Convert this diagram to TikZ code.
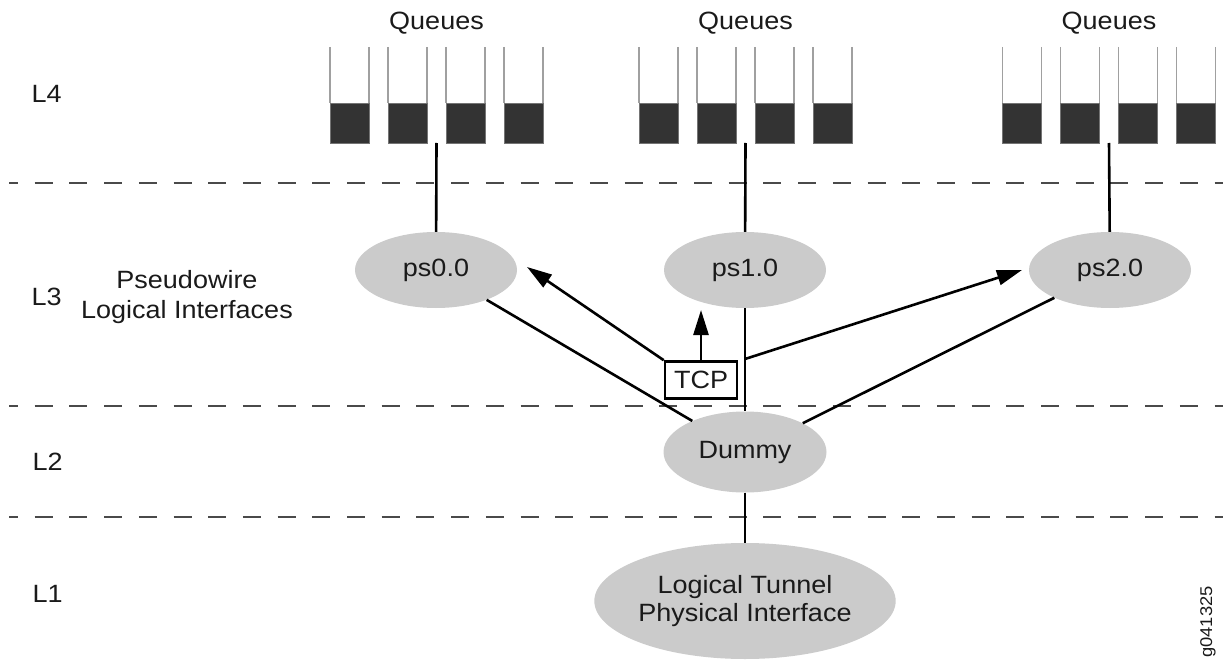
\documentclass[tikz,border=0pt]{standalone}
\usepackage{fontspec}
\setmainfont{Liberation Sans}[FakeStretch=1.08]
\usetikzlibrary{arrows.meta,shapes.geometric}
\definecolor{ink}{HTML}{1A1A1A}
\definecolor{ellgray}{HTML}{CBCBCB}
\definecolor{dashgray}{HTML}{4A4A4A}
\definecolor{qdark}{HTML}{333333}
\definecolor{qwallgray}{HTML}{A0A0A0}

\begin{document}
\begin{tikzpicture}[x=1pt,y=-1pt,
  every node/.style={font=\fontsize{25}{30}\selectfont, text=ink},
  iface/.style={ellipse, fill=ellgray, draw=none, inner sep=0pt,
                minimum width=162pt, minimum height=76pt},
  layerline/.style={draw=dashgray, line width=2pt,
                    dash pattern=on 18pt off 16.7pt, dash phase=9pt},
  qwall/.style={draw=qwallgray, line width=1.6pt},
  qfill/.style={fill=qdark, draw=qwallgray!60!qdark, line width=0.8pt},
  link/.style={draw=black, line width=2.6pt},
  arr/.style={draw=black, line width=2.6pt, -{Triangle[length=25pt,width=15pt]}},
  tcpbox/.style={draw=black, line width=2.6pt, fill=white, inner sep=0pt,
                 minimum width=72pt, minimum height=37pt}
]
\useasboundingbox (0,0) rectangle (1223,663);

% layer separators
\foreach \y in {183,406,517}
  \draw[layerline] (9,\y) -- (1223,\y);

% layer labels
\node[anchor=base west] (l4) at (28,103) {L4};
\node[anchor=base west] (l3) at (28,305) {L3};
\node[anchor=base west] (l2) at (29,470) {L2};
\node[anchor=base west] (l1) at (29,602) {L1};
\node[align=center] (pwlabel) at (187,297) {Pseudowire\\Logical Interfaces};

% queue sets, four queues each
\foreach \cx/\i in {436.5/0,745.5/1,1109/2} {
  \node[anchor=base] (qlabel\i) at (\cx,30) {Queues};
  \foreach \o in {-87,-29,29,87} {
    \fill[qfill] (\cx+\o-19.5,103) rectangle (\cx+\o+19.5,143);
    \draw[qwall] (\cx+\o-19.5,47) -- (\cx+\o-19.5,103);
    \draw[qwall] (\cx+\o+19.5,47) -- (\cx+\o+19.5,103);
  }
  \coordinate (qb\i) at (\cx,143);
}

% interfaces
\node[iface] (ps0) at (436,270) {ps0.0};
\node[iface] (ps1) at (745,270) {ps1.0};
\node[iface] (ps2) at (1110,270) {ps2.0};
\node[iface, minimum width=163pt, minimum height=81pt] (dummy) at (745,452) {Dummy};
\node[iface, minimum width=234pt, minimum height=116pt, align=center,
      font=\fontsize{25}{28}\selectfont] (lt) at (745,601)
      {Logical Tunnel\\Physical Interface};

% queues to pseudowire interfaces
\draw[link] (qb0) -- (ps0);
\draw[link] (qb1) -- (ps1);
\draw[link] (qb2) -- (ps2);

% pseudowires down to the dummy and the tunnel
\draw[link] (ps0) -- (dummy);
\draw[link] (ps2) -- (dummy);
\draw[link] (ps1) -- (dummy);
\draw[link] (dummy) -- (lt);

% TCP demultiplexing
\node[tcpbox] (tcp) at (701,380) {TCP};
\coordinate (tcpout) at (745,359);
\coordinate (to0) at (527,267);
\coordinate (to1) at (701,310);
\coordinate (to2) at (1022,270);
\draw[arr] (tcp.north west) -- (to0);
\draw[arr] (tcp.north) -- (to1);
\draw[arr] (tcpout) -- (to2);

% figure id
\node[rotate=90, font=\fontsize{17}{20}\selectfont] (figid) at (1208,622) {g041325};
\end{tikzpicture}
\end{document}
